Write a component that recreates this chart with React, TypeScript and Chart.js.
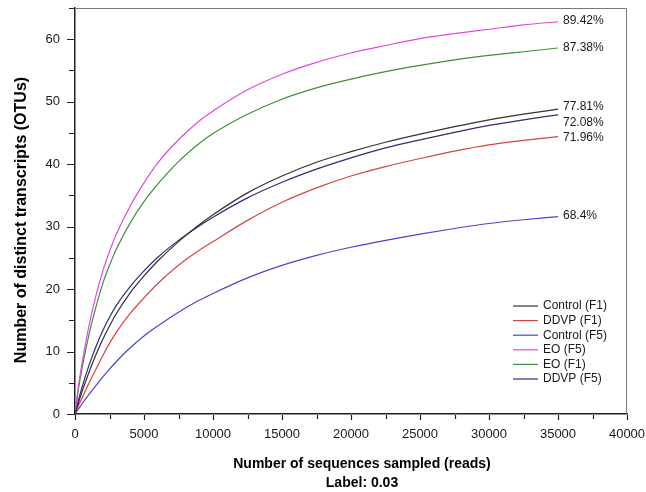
import React, { useEffect, useRef } from "react";
import { Chart, registerables } from "chart.js";

Chart.register(...registerables);

// ---- data ----
const sampleSizes = [0, 250, 500, 1000, 1500, 2000, 2500, 3000, 4000, 5000, 6000, 7500, 9000, 10000, 12500, 15000, 17500, 20000, 22500, 25000, 27500, 30000, 32500, 35000];
const seriesNames = ["Control (F1)", "DDVP (F1)", "Control (F5)", "EO (F5)", "EO (F1)", "DDVP (F5)"];
const controlF1 = [0, 1.8, 3.5, 6.6, 9.4, 11.9, 14.1, 16.1, 19.4, 22.1, 24.5, 27.6, 30.3, 31.9, 35.4, 38.1, 40.3, 42.0, 43.5, 44.8, 46.0, 47.1, 48.0, 48.8];
const ddvpF1 = [0, 1.3, 2.5, 4.9, 7.1, 9.3, 11.3, 13.1, 16.1, 18.6, 20.9, 23.8, 26.2, 27.6, 31.0, 33.9, 36.2, 38.1, 39.6, 40.9, 42.1, 43.1, 43.8, 44.4];
const controlF5 = [0, 0.8, 1.6, 3.1, 4.5, 5.9, 7.2, 8.4, 10.6, 12.5, 14.1, 16.3, 18.2, 19.3, 21.8, 23.8, 25.4, 26.7, 27.8, 28.8, 29.7, 30.5, 31.1, 31.6];
const eoF5 = [0, 4.5, 8.0, 14.0, 18.8, 22.8, 26.0, 28.8, 33.3, 37.0, 40.2, 43.9, 46.9, 48.5, 51.9, 54.4, 56.3, 57.8, 59.0, 60.1, 60.9, 61.6, 62.3, 62.8];
const eoF1 = [0, 4.0, 7.2, 12.6, 17.0, 20.8, 23.8, 26.4, 30.6, 34.0, 36.8, 40.4, 43.3, 44.9, 48.0, 50.4, 52.2, 53.6, 54.8, 55.8, 56.7, 57.4, 58.0, 58.6];
const ddvpF5 = [0, 2.2, 4.2, 7.7, 10.7, 13.3, 15.5, 17.4, 20.4, 22.9, 25.1, 27.8, 30.1, 31.5, 34.6, 37.1, 39.2, 41.0, 42.6, 43.9, 45.1, 46.2, 47.1, 47.9];
const coverageLabels = ["77.81%", "71.96%", "68.4%", "89.42%", "87.38%", "72.08%"];
const xAxisTitle = "Number of sequences sampled (reads)";
const xAxisSubtitle = "Label: 0.03";
const yAxisTitle = "Number of distinct transcripts (OTUs)";

// ---- styles ----
const seriesValues = [controlF1, ddvpF1, controlF5, eoF5, eoF1, ddvpF5];
const seriesColors = ["#333333", "#d64545", "#4646d6", "#e048e0", "#3f8f3f", "#2e2e7e"];
const labelNudge = [-3, 1, -1, -1, 0, 8];
const FONT = "'Liberation Sans', Arial, sans-serif";

const decorPlugin = {
  id: "decor",
  beforeDatasetsDraw(chart: any) {
    const { ctx, chartArea: a } = chart;
    ctx.save();
    ctx.strokeStyle = "#7a7a7a";
    ctx.lineWidth = 1;
    ctx.beginPath();
    ctx.moveTo(a.left, a.top + 0.5);
    ctx.lineTo(a.right - 0.5, a.top + 0.5);
    ctx.lineTo(a.right - 0.5, a.bottom);
    ctx.stroke();
    ctx.restore();
  },
  afterDraw(chart: any) {
    const { ctx, chartArea: a, scales } = chart;
    const xs = scales.x;
    const ys = scales.y;
    ctx.save();
    // tick marks
    ctx.strokeStyle = "#222";
    ctx.lineWidth = 1.2;
    ctx.beginPath();
    for (let v = xs.min; v <= xs.max; v += 2500) {
      const px = Math.round(xs.getPixelForValue(v)) + 0.5;
      const len = v % 5000 === 0 ? 5 : 4;
      ctx.moveTo(px, a.bottom + 1);
      ctx.lineTo(px, a.bottom + 1 + len);
    }
    for (let v = ys.min; v <= ys.max; v += 5) {
      const py = Math.round(ys.getPixelForValue(v)) + 0.5;
      const len = v % 10 === 0 ? 7 : 5;
      ctx.moveTo(a.left - 1 - len, py);
      ctx.lineTo(a.left - 0.5, py);
    }
    ctx.stroke();

    // end labels
    ctx.font = `12px ${FONT}`;
    ctx.fillStyle = "#1a1a1a";
    ctx.textAlign = "left";
    ctx.textBaseline = "middle";
    chart.data.datasets.forEach((ds: any, i: number) => {
      const meta = chart.getDatasetMeta(i);
      const last = meta.data[meta.data.length - 1];
      if (last) ctx.fillText(coverageLabels[i], last.x + 5, last.y + labelNudge[i]);
    });

    // legend
    const lx0 = a.right - 114;
    const lx1 = a.right - 89;
    const tx = a.right - 84;
    chart.data.datasets.forEach((ds: any, i: number) => {
      const yy = a.bottom - 108 + i * 14.6;
      ctx.strokeStyle = ds.borderColor;
      ctx.lineWidth = 1.2;
      ctx.beginPath();
      ctx.moveTo(lx0, yy);
      ctx.lineTo(lx1, yy);
      ctx.stroke();
      ctx.fillStyle = "#1a1a1a";
      ctx.fillText(ds.label, tx, yy);
    });

    // axis titles
    ctx.fillStyle = "#000";
    ctx.textAlign = "center";
    ctx.textBaseline = "alphabetic";
    ctx.font = `bold 14px ${FONT}`;
    ctx.fillText(xAxisTitle, 362, 468);
    ctx.fillText(xAxisSubtitle, 362, 487);
    ctx.translate(26, 220);
    ctx.rotate(-Math.PI / 2);
    ctx.font = `bold 16px ${FONT}`;
    ctx.fillText(yAxisTitle, 0, 0);
    ctx.restore();
  },
};

export default function App() {
  const canvasRef = useRef<HTMLCanvasElement | null>(null);

  useEffect(() => {
    if (!canvasRef.current) return;
    const chart = new Chart(canvasRef.current, {
      type: "line",
      data: {
        datasets: seriesNames.map((name, i) => ({
          label: name,
          data: sampleSizes.map((x, j) => ({ x, y: seriesValues[i][j] })),
          borderColor: seriesColors[i],
          backgroundColor: seriesColors[i],
          borderWidth: 1.2,
          pointRadius: 0,
          fill: false,
          cubicInterpolationMode: "monotone" as const,
        })),
      },
      options: {
        animation: false,
        responsive: true,
        maintainAspectRatio: false,
        layout: { padding: { left: 0, top: 8, right: 19, bottom: 0 } },
        plugins: { legend: { display: false }, tooltip: { enabled: false } },
        scales: {
          x: {
            type: "linear",
            min: 0,
            max: 40000,
            grid: { display: false, drawTicks: false },
            border: { display: true, color: "#222", width: 1.5 },
            ticks: {
              stepSize: 5000,
              includeBounds: false,
              autoSkip: false,
              maxRotation: 0,
              padding: 13,
              color: "#1a1a1a",
              font: { family: FONT, size: 13 },
              callback: (v: any) => String(v),
            },
            afterFit: (s: any) => {
              s.height = 78;
              s.paddingLeft = 0;
              s.paddingRight = 0;
            },
          },
          y: {
            type: "linear",
            min: 0,
            max: 65,
            grid: { display: false, drawTicks: false },
            border: { display: true, color: "#222", width: 1.5 },
            ticks: {
              stepSize: 10,
              includeBounds: false,
              padding: 15,
              color: "#1a1a1a",
              font: { family: FONT, size: 13 },
            },
            afterFit: (s: any) => {
              s.width = 75;
              s.paddingTop = 0;
              s.paddingBottom = 0;
            },
          },
        },
      },
      plugins: [decorPlugin],
    });
    return () => chart.destroy();
  }, []);

  return (
    <div style={{ position: "absolute", left: 0, top: 0, width: 646, height: 492, background: "#fff" }}>
      <canvas ref={canvasRef} />
    </div>
  );
}
